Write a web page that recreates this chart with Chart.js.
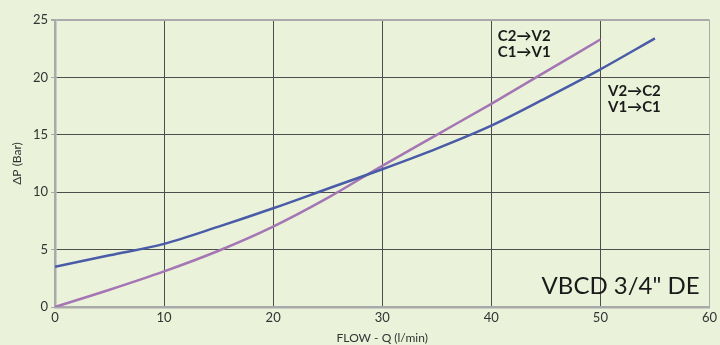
<!DOCTYPE html>
<html>
<head>
<meta charset="utf-8">
<script src="https://cdn.jsdelivr.net/npm/chart.js@4.4.0/dist/chart.umd.min.js"></script>
<style>
  html, body { margin: 0; padding: 0; background: #eaf2da; }
  #wrap { width: 720px; height: 345px; }
</style>
</head>
<body>
<div id="wrap"><canvas id="dpChart"></canvas></div>
<script>
// Flow values (l/min) and pressure drop (bar)
const flowV2C2 = [0, 5, 10, 15, 20, 25, 30, 35, 40, 45, 50, 55];
const dpV2C2 = [3.5, 4.5, 5.5, 7.0, 8.6, 10.3, 12.0, 13.8, 15.8, 18.2, 20.7, 23.4];

const flowC2V2 = [0, 5, 10, 15, 20, 25, 30, 35, 40, 45, 50];
const dpC2V2 = [0, 1.5, 3.1, 4.9, 7.0, 9.5, 12.3, 15.0, 17.7, 20.5, 23.3];

const xTicks = [0, 10, 20, 30, 40, 50, 60];
const yTicks = [0, 5, 10, 15, 20, 25];

const FONT = 'Lato, "Open Sans", sans-serif';

// Draw the free-standing labels inside the plot
const labelsPlugin = {
    id: 'curveLabels',
    afterDatasetsDraw(chart) {
        const { ctx, scales: { x, y } } = chart;
        ctx.save();
        ctx.fillStyle = '#1a1a1a';
        ctx.textBaseline = 'middle';
        ctx.textAlign = 'left';
        ctx.font = 'bold 15px ' + FONT;
        ctx.fillText('C2\u2192V2', x.getPixelForValue(40.6), y.getPixelForValue(23.6));
        ctx.fillText('C1\u2192V1', x.getPixelForValue(40.6), y.getPixelForValue(22.2));
        ctx.fillText('V2\u2192C2', x.getPixelForValue(50.7), y.getPixelForValue(18.8));
        ctx.fillText('V1\u2192C1', x.getPixelForValue(50.7), y.getPixelForValue(17.4));
        ctx.textAlign = 'right';
        ctx.font = '24px ' + FONT;
        ctx.fillText('VBCD 3/4" DE', x.getPixelForValue(59.1), y.getPixelForValue(1.8));
        ctx.restore();
    }
};

const gridColor = (edge) => (c) => (c.tick && c.tick.value === edge ? '#aaaaaa' : '#4d4d4d');

new Chart(document.getElementById('dpChart'), {
    type: 'line',
    data: {
        datasets: [{
            label: 'V2\u2192C2',
            data: flowV2C2.map((q, i) => ({ x: q, y: dpV2C2[i] })),
            borderColor: '#4a5ca8',
            borderWidth: 2.5,
            pointRadius: 0,
            cubicInterpolationMode: 'monotone'
        }, {
            label: 'C2\u2192V2',
            data: flowC2V2.map((q, i) => ({ x: q, y: dpC2V2[i] })),
            borderColor: '#a476b3',
            borderWidth: 2.5,
            pointRadius: 0,
            cubicInterpolationMode: 'monotone'
        }]
    },
    options: {
        responsive: true,
        maintainAspectRatio: false,
        animation: false,
        layout: { padding: { top: 20, right: 7, left: 0, bottom: 0 } },
        plugins: { legend: { display: false }, tooltip: { enabled: false } },
        scales: {
            x: {
                type: 'linear',
                min: 0,
                max: 60,
                afterBuildTicks: (s) => { s.ticks = xTicks.map(v => ({ value: v })); },
                afterFit: (s) => { s.height = 38; },
                grid: { color: gridColor(60), lineWidth: 1, drawTicks: false },
                border: { color: '#aaaaaa', width: 2.5 },
                ticks: { color: '#333', font: { family: FONT, size: 13 }, padding: 3 },
                title: {
                    display: true,
                    text: 'FLOW - Q (l/min)',
                    color: '#333',
                    font: { family: FONT, size: 12 },
                    padding: { top: 0, bottom: 0 }
                }
            },
            y: {
                min: 0,
                max: 25,
                afterBuildTicks: (s) => { s.ticks = yTicks.map(v => ({ value: v })); },
                afterFit: (s) => { s.width = 55; },
                grid: { color: gridColor(25), lineWidth: (c) => (c.tick && c.tick.value === 25 ? 2 : 1), tickLength: 4, tickColor: '#aaaaaa' },
                border: { color: '#aaaaaa', width: 2.5 },
                ticks: { color: '#333', font: { family: FONT, size: 13 }, padding: 3 },
                title: {
                    display: true,
                    text: '\u0394P (Bar)',
                    color: '#333',
                    font: { family: FONT, size: 12 },
                    padding: { top: 10, bottom: 0 }
                }
            }
        }
    },
    plugins: [labelsPlugin]
});
</script>
</body>
</html>
